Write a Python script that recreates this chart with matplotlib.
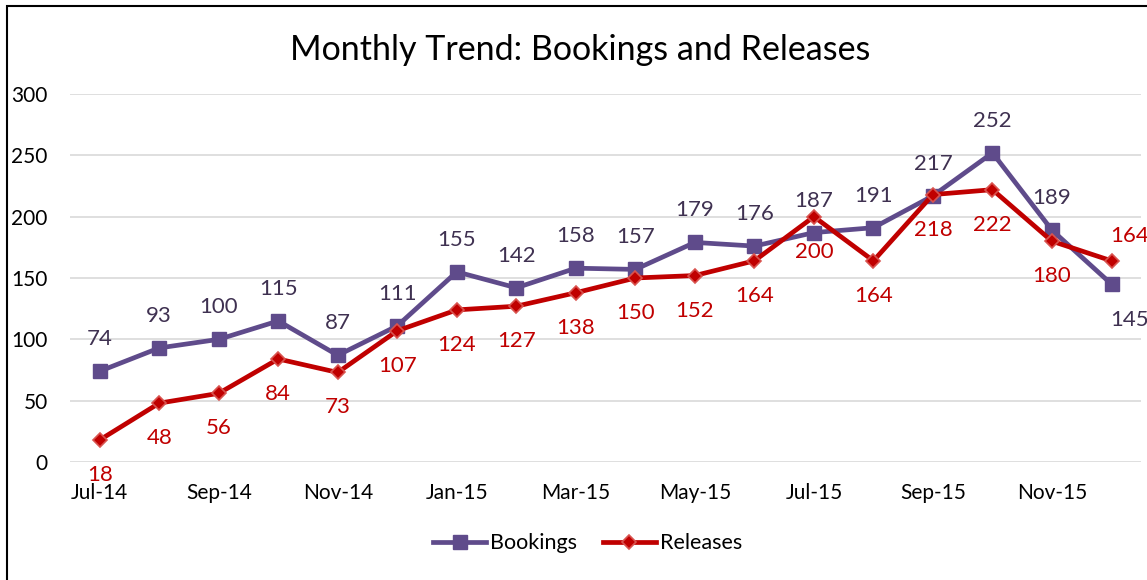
import matplotlib
matplotlib.use('Agg')
import matplotlib.pyplot as plt
from matplotlib.patches import Rectangle

plt.rcParams['font.family'] = ['Lato', 'DejaVu Sans']

# данные
months = ['Jul-14', 'Aug-14', 'Sep-14', 'Oct-14', 'Nov-14', 'Dec-14',
          'Jan-15', 'Feb-15', 'Mar-15', 'Apr-15', 'May-15', 'Jun-15',
          'Jul-15', 'Aug-15', 'Sep-15', 'Oct-15', 'Nov-15', 'Dec-15']
bookings = [74, 93, 100, 115, 87, 111, 155, 142, 158, 157, 179, 176,
            187, 191, 217, 252, 189, 145]
releases = [18, 48, 56, 84, 73, 107, 124, 127, 138, 150, 152, 164,
            200, 164, 218, 222, 180, 164]
yticks = [0, 50, 100, 150, 200, 250, 300]

purple = '#5F4B8B'
red = '#C00000'

fig = plt.figure(figsize=(11.47, 5.8), dpi=100)
ax = fig.add_axes([0.061, 0.2034, 0.934, 0.6346])

x = list(range(len(months)))
ax.plot(x, bookings, color=purple, lw=3.4, marker='s', markersize=10,
        markerfacecolor=purple, markeredgecolor=purple, label='Bookings', zorder=3)
ax.plot(x, releases, color=red, lw=3.4, marker='D', markersize=7.5,
        markerfacecolor=red, markeredgecolor='#D9534F', markeredgewidth=1.2,
        label='Releases', zorder=4)

# подписи значений
last = len(months) - 1
for i, v in enumerate(bookings):
    if i == last:
        ax.annotate(str(v), (i, v), xytext=(18, -36), textcoords='offset pixels',
                    ha='center', va='center', fontsize=16, color='#3F3151',
                    annotation_clip=False)
    else:
        ax.annotate(str(v), (i, v), xytext=(0, 32), textcoords='offset pixels',
                    ha='center', va='center', fontsize=16, color='#3F3151')
for i, v in enumerate(releases):
    if i == last:
        ax.annotate(str(v), (i, v), xytext=(18, 25), textcoords='offset pixels',
                    ha='center', va='center', fontsize=16, color=red,
                    annotation_clip=False)
    else:
        ax.annotate(str(v), (i, v), xytext=(0, -35), textcoords='offset pixels',
                    ha='center', va='center', fontsize=16, color=red)

ax.set_xlim(-0.5, last + 0.5)
ax.set_ylim(0, 300)
ax.set_yticks(yticks)
ax.set_xticks(x[::2])
ax.set_xticklabels(months[::2])
ax.tick_params(axis='both', length=0, labelsize=15)
ax.tick_params(axis='y', pad=16)
ax.tick_params(axis='x', pad=15)
ax.grid(axis='y', color='#D9D9D9', lw=1.2)
ax.set_axisbelow(True)
for s in ax.spines.values():
    s.set_visible(False)

fig.text(0.506, 1 - 50 / 580, 'Monthly Trend: Bookings and Releases',
         fontsize=24.5, ha='center', va='center')

fig.legend(loc='center', bbox_to_anchor=(0.512, 0.063), ncol=2, frameon=False,
           fontsize=15.5, handlelength=2.5, handletextpad=0.15, columnspacing=1.2)

# рамка диаграммы
fig.patches.append(Rectangle((7 / 1147, -0.1), 1.2, 1 - 6 / 580 + 0.1,
                             transform=fig.transFigure, fill=False,
                             edgecolor='black', lw=1.5))

fig.savefig('out.png', dpi=100)
